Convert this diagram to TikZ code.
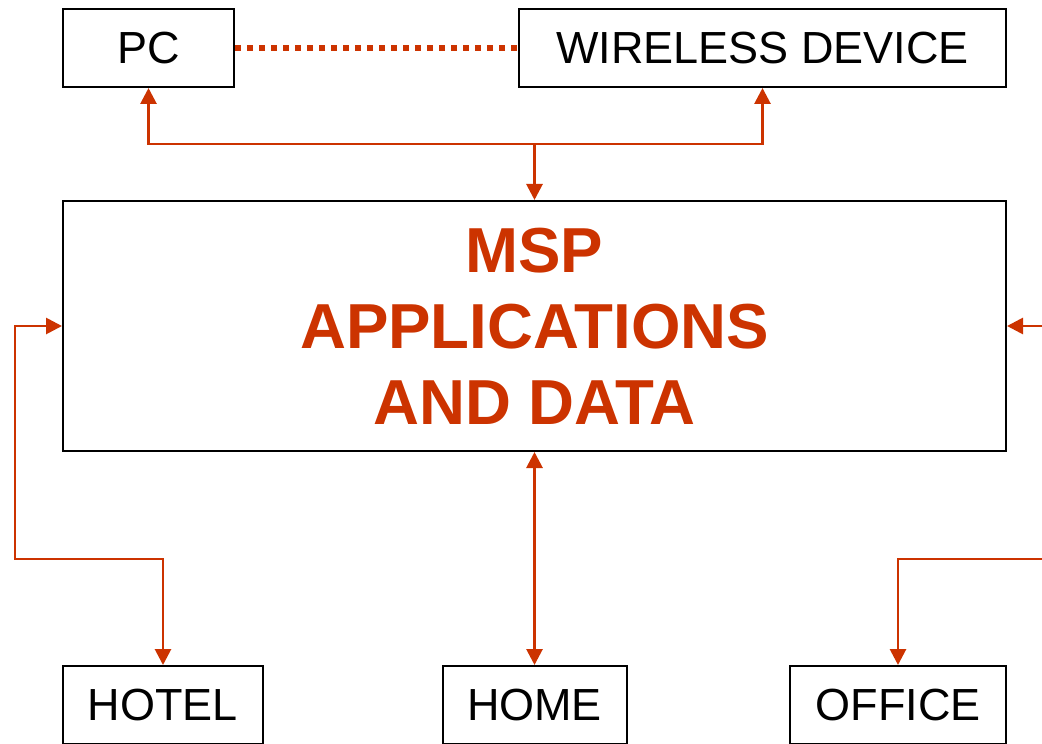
\documentclass[tikz,border=0pt]{standalone}
\usepackage{fontspec}
\setmainfont{Liberation Sans}
\usetikzlibrary{arrows.meta}
\definecolor{mspred}{RGB}{204,51,0}

\begin{document}
\begin{tikzpicture}[x=0.5pt,y=-0.5pt,
                    >={Triangle[width=8pt,length=8pt]},
                    box/.style={draw,line width=1pt,inner sep=0pt,minimum height=39pt,
                                font=\fontsize{22.5}{26}\selectfont},
                    wire/.style={draw=mspred,line width=1.4pt}]
                    \useasboundingbox (0,0) rectangle (1042,743);

                    \node[box,minimum width=85.5pt] (pc) at (148.5,48) {PC};
                    \node[box,minimum width=243.5pt] (wd) at (762.5,48) {WIRELESS DEVICE};
                    \node[box,minimum width=471.5pt,minimum height=125pt,align=center,
                          text=mspred,font=\bfseries\fontsize{31.8}{38}\selectfont]
                          (msp) at (534.5,326) {MSP\\APPLICATIONS\\AND DATA};
                    \node[box,minimum width=100pt] (hotel) at (163,705) {HOTEL};
                    \node[box,minimum width=92pt] (home) at (534.5,705) {HOME};
                    \node[box,minimum width=108pt] (office) at (898,705) {OFFICE};

                    \coordinate (hub) at (534.5,144);
                    \coordinate (lbend) at (15,559);
                    \coordinate (rbend) at (1060,559);
                    \coordinate (redge) at (1060,326);

                    \draw[mspred,line width=3pt,dash pattern=on 3pt off 3pt] (pc.east) -- (wd.west);
                    \draw[wire,->] (hub) -| (pc.south);
                    \draw[wire,->] (hub) -| (wd.south);
                    \draw[wire,->] (hub) -- (msp.north);
                    \draw[wire,<->] (msp.west) -| (lbend) -| (hotel.north);
                    \draw[wire,<->] (msp.south) -- (home.north);
                    \draw[wire,->] (rbend) -| (office.north);
                    \draw[wire,->] (redge) -- (msp.east);
\end{tikzpicture}
\end{document}
